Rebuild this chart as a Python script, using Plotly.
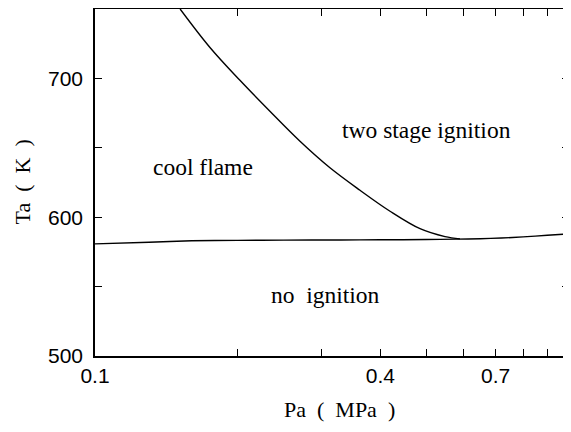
import math
import plotly.graph_objects as go

# Lower boundary (no ignition limit)
low_pa = [0.1, 0.13, 0.16, 0.2, 0.25, 0.33, 0.4, 0.5, 0.58, 0.65, 0.72, 0.8, 0.9, 1.0]
low_ta = [580.8, 582.0, 583.0, 583.3, 583.5, 583.6, 583.7, 583.9, 584.2, 584.5, 585.0, 585.8, 587.0, 588.0]

# Upper boundary (cool flame / two stage ignition)
up_pa = [0.1512, 0.1748, 0.2022, 0.2339, 0.2707, 0.3131, 0.3623, 0.4192, 0.4850, 0.5476, 0.5888]
up_ta = [750.0, 722.3, 698.6, 676.3, 654.7, 635.6, 619.4, 604.3, 591.7, 586.0, 584.4]

x_tickvals = [0.1, 0.2, 0.3, 0.4, 0.5, 0.6, 0.7, 0.8, 0.9, 1.0]
x_ticktext = ["0.1", "", "", "0.4", "", "", "0.7", "", "", "1"]
y_tickvals = [500, 550, 600, 650, 700, 750]
y_ticktext = ["500", "", "600", "", "700", ""]

region_labels = ["cool flame", "two stage ignition", "no ignition"]
region_pa = [0.169, 0.50, 0.306]
region_ta = [636.5, 662.5, 544.0]

line_style = dict(color="black", width=1.4)
fig = go.Figure()
fig.add_trace(go.Scatter(x=low_pa, y=low_ta, mode="lines", line=dict(**line_style, shape="spline", smoothing=0.8),
                         showlegend=False, hoverinfo="skip"))
fig.add_trace(go.Scatter(x=up_pa, y=up_ta, mode="lines", line=dict(**line_style, shape="spline", smoothing=1.0),
                         showlegend=False, hoverinfo="skip"))

serif = "Liberation Serif, Times New Roman, serif"
sans = "Liberation Sans, Arial, sans-serif"

for t, px, ty in zip(region_labels, region_pa, region_ta):
    fig.add_annotation(x=math.log10(px), y=ty, xref="x", yref="y", text=t.replace("no ", "no\u00a0 "),
                       showarrow=False, xanchor="center", yanchor="middle",
                       font=dict(family=serif, size=23.5, color="black"))

fig.add_annotation(x=-0.154, y=0.5, xref="paper", yref="paper", text="Ta\u00a0 (\u00a0 K\u00a0 )", textangle=-90,
                   xanchor="center", yanchor="middle",
                   showarrow=False, font=dict(family=serif, size=22, color="black"))
fig.add_annotation(x=0.515, y=-0.153, xref="paper", yref="paper", text="Pa\u00a0 (\u00a0 MPa\u00a0 )",
                   xanchor="center", yanchor="middle",
                   showarrow=False, font=dict(family=serif, size=22, color="black"))

fig.update_xaxes(type="log", range=[-1, 0], tickvals=x_tickvals, ticktext=x_ticktext,
                 ticks="inside", ticklen=7, tickwidth=1.3, tickcolor="black",
                 showline=True, linecolor="black", linewidth=1.6, mirror="ticks",
                 showgrid=False, zeroline=False, automargin=False, ticklabeloverflow="allow",
                 tickfont=dict(family=sans, size=21, color="black"))
fig.update_yaxes(range=[500, 750], tickvals=y_tickvals, ticktext=y_ticktext,
                 ticks="inside", ticklen=7, tickwidth=1.3, tickcolor="black",
                 showline=True, linecolor="black", linewidth=1.6, mirror="ticks",
                 showgrid=False, zeroline=False, automargin=False, ticklabelstandoff=6,
                 tickfont=dict(family=sans, size=21, color="black"))

# The page body has an 8px margin; size the figure so the plot area lands where the reference has it
fig.update_layout(width=563, height=416, margin=dict(l=87, r=2, t=1, b=68),
                  plot_bgcolor="white", paper_bgcolor="white")

fig.write_html("out.html")
